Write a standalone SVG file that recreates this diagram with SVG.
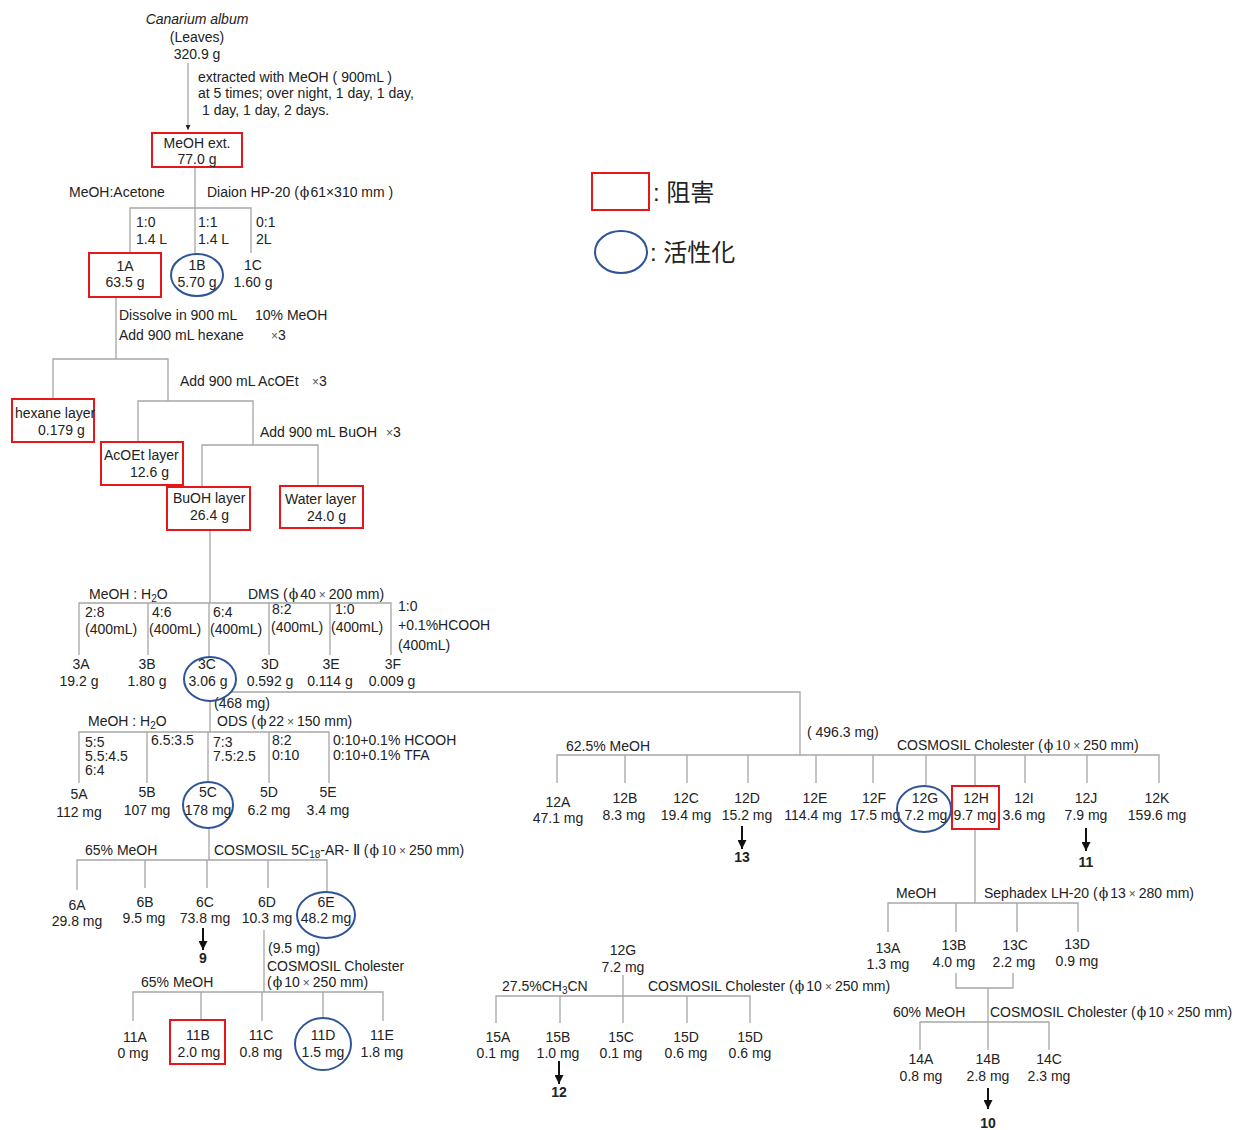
<svg xmlns="http://www.w3.org/2000/svg" width="1239" height="1130" viewBox="0 0 1239 1130">
<style>
.t{font-family:"Liberation Sans",Arial,sans-serif;font-size:14px;fill:#222}
.m{text-anchor:middle}
.i{font-style:italic}
.b{font-weight:bold}
.phi{font-family:"DejaVu Serif","Liberation Serif",serif;font-size:14px}
.ser{font-family:"Liberation Serif",serif;font-size:15px}
.x{font-size:12px;fill:#555}
.ln{stroke:#a6a6a6;stroke-width:1.3;fill:none}
.red{fill:none;stroke:#e8161b;stroke-width:2}
.blue{fill:none;stroke:#2f5597;stroke-width:2}
.arr{stroke:#111;stroke-width:2;fill:none;marker-end:url(#ah)}
.cj{font-family:"Liberation Sans","Noto Sans CJK JP",sans-serif;font-size:24px;fill:#222}
</style>
<defs>
<marker id="ah" viewBox="0 0 10 10" refX="10" refY="5" markerWidth="9" markerHeight="9" markerUnits="userSpaceOnUse" orient="auto"><path d="M0,0 L10,5 L0,10 Z" fill="#111"/></marker>
<marker id="ahs" viewBox="0 0 10 10" refX="10" refY="5" markerWidth="5" markerHeight="5" markerUnits="userSpaceOnUse" orient="auto"><path d="M0,0 L10,5 L0,10 Z" fill="#222"/></marker>
</defs>
<rect width="1239" height="1130" fill="#fff"/>

<!-- connectors -->
<g id="connectors">
<line class="ln" x1="188" y1="63" x2="188" y2="130" marker-end="url(#ahs)"/>
<path class="ln" d="M195,167V208M130,253V208H251V253M195,208V254"/>
<path class="ln" d="M116,297V359M53,399V359H168V401"/>
<path class="ln" d="M138,442V401H253V445"/>
<path class="ln" d="M202,487V445H318V486"/>
<path class="ln" d="M210,530V603M79,655V603H391V655M148,603V655M209,603V657M269,603V655M330,603V655"/>
<path class="ln" d="M231,692H800V755"/>
<path class="ln" d="M210,701V732M79,783V732H329V783M147,732V783M208,732V782M269,732V783"/>
<path class="ln" d="M209,827V860M77,890V860H327V892M145,860V888M207,860V888M268,860V888"/>
<path class="ln" d="M264,930V992M133,1021V992H383V1021M201,992V1020M262,992V1021M323,992V1018"/>
<path class="ln" d="M557,783V755H1159V783M625,755V783M687,755V783M748,755V783M816,755V783M873,755V783M926,755V785M975,755V786M1025,755V783M1087,755V783"/>
<path class="ln" d="M975,829V903M888,932V903H1078V932M956,903V932M1017,903V932"/>
<path class="ln" d="M956,973V988H1013V973M988,988V1050M920,1050V1022H1049V1050"/>
<path class="ln" d="M623,975V1023M496,1023V996H750V1023M560,996V1023M687,996V1023"/>
<line class="arr" x1="203" y1="928" x2="203" y2="950"/>
<line class="arr" x1="742" y1="826" x2="742" y2="849"/>
<line class="arr" x1="1086" y1="828" x2="1086" y2="851"/>
<line class="arr" x1="988" y1="1088" x2="988" y2="1109"/>
<line class="arr" x1="559" y1="1061" x2="559" y2="1084"/>
</g>

<!-- process labels -->
<g id="labels" class="t">
<text x="198" y="82">extracted with MeOH ( 900mL )</text>
<text x="198" y="98">at 5 times; over night, 1 day, 1 day,</text>
<text x="202" y="115">1 day, 1 day, 2 days.</text>
<text x="69" y="197">MeOH:Acetone</text>
<text x="207" y="197">Diaion HP-20 (<tspan class="phi" dx="1">ϕ</tspan><tspan dx="1">61×310 mm )</tspan></text>
<text x="136" y="227">1:0</text><text x="136" y="244">1.4 L</text>
<text x="198" y="227">1:1</text><text x="198" y="244">1.4 L</text>
<text x="256" y="227">0:1</text><text x="256" y="244">2L</text>
<text x="119" y="320">Dissolve in 900 mL</text><text x="255" y="320">10% MeOH</text>
<text x="119" y="340">Add 900 mL hexane <tspan class="x" x="271">×</tspan>3</text>
<text x="180" y="386">Add 900 mL AcOEt <tspan class="x" x="312">×</tspan>3</text>
<text x="260" y="437">Add 900 mL BuOH <tspan class="x" x="386">×</tspan>3</text>

<text x="89" y="599">MeOH : H<tspan font-size="10" dy="3">2</tspan><tspan dy="-3">O</tspan></text>
<text x="248" y="599">DMS (<tspan class="phi" dx="1">ϕ</tspan><tspan dx="2">40</tspan><tspan class="x" dx="3">×</tspan><tspan dx="3">200 mm)</tspan></text>
<text x="85" y="617">2:8</text><text x="85" y="634">(400mL)</text>
<text x="152" y="617">4:6</text><text x="149" y="634">(400mL)</text>
<text x="213" y="617">6:4</text><text x="210" y="634">(400mL)</text>
<text x="272" y="614">8:2</text><text x="271" y="632">(400mL)</text>
<text x="335" y="614">1:0</text><text x="331" y="632">(400mL)</text>
<text x="398" y="611">1:0</text><text x="398" y="630">+0.1%HCOOH</text><text x="398" y="650">(400mL)</text>

<text x="214" y="708">(468 mg)</text>
<text x="88" y="726">MeOH : H<tspan font-size="10" dy="3">2</tspan><tspan dy="-3">O</tspan></text>
<text x="217" y="726">ODS (<tspan class="phi" dx="1">ϕ</tspan><tspan dx="2">22</tspan><tspan class="x" dx="3">×</tspan><tspan dx="3">150 mm)</tspan></text>
<text x="85" y="747">5:5</text><text x="85" y="761">5.5:4.5</text><text x="85" y="775">6:4</text>
<text x="151" y="745">6.5:3.5</text>
<text x="213" y="747">7:3</text><text x="213" y="761">7.5:2.5</text>
<text x="272" y="745">8:2</text><text x="272" y="760">0:10</text>
<text x="333" y="745">0:10+0.1% HCOOH</text><text x="333" y="760">0:10+0.1% TFA</text>

<text x="85" y="855">65% MeOH</text>
<text x="214" y="855">COSMOSIL 5C<tspan font-size="10" dy="3">18</tspan><tspan dy="-3">-AR-</tspan><tspan class="ser"> Ⅱ</tspan> (<tspan class="phi" dx="1">ϕ</tspan><tspan class="ser" dx="2">10</tspan><tspan class="x" dx="3">×</tspan><tspan dx="3">250 mm)</tspan></text>

<text x="268" y="953">(9.5 mg)</text>
<text x="267" y="971">COSMOSIL Cholester</text>
<text x="267" y="987">(<tspan class="phi" dx="1">ϕ</tspan><tspan dx="2">10</tspan><tspan class="x" dx="3">×</tspan><tspan dx="3">250 mm)</tspan></text>
<text x="141" y="987">65% MeOH</text>

<text x="807" y="737">( 496.3 mg)</text>
<text x="566" y="751">62.5% MeOH</text>
<text x="897" y="750">COSMOSIL Cholester (<tspan class="phi" dx="1">ϕ</tspan><tspan class="ser" dx="2">10</tspan><tspan class="x" dx="3">×</tspan><tspan dx="3">250 mm)</tspan></text>

<text x="896" y="898">MeOH</text>
<text x="984" y="898">Sephadex LH-20 (<tspan class="phi" dx="1">ϕ</tspan><tspan dx="2">13</tspan><tspan class="x" dx="3">×</tspan><tspan dx="3">280 mm)</tspan></text>
<text x="893" y="1017">60% MeOH</text>
<text x="990" y="1017">COSMOSIL Cholester (<tspan class="phi" dx="1">ϕ</tspan><tspan dx="2">10</tspan><tspan class="x" dx="3">×</tspan><tspan dx="3">250 mm)</tspan></text>

<text x="502" y="991">27.5%CH<tspan font-size="10" dy="3">3</tspan><tspan dy="-3">CN</tspan></text>
<text x="648" y="991">COSMOSIL Cholester (<tspan class="phi" dx="1">ϕ</tspan><tspan dx="2">10</tspan><tspan class="x" dx="3">×</tspan><tspan dx="3">250 mm)</tspan></text>
</g>

<!-- fractions -->
<g id="n-leaves" class="t m"><text x="197" y="24" class="i">Canarium album</text><text x="197" y="42">(Leaves)</text><text x="197" y="59">320.9 g</text></g>
<g id="n-meoh-ext" class="t m"><rect class="red" x="152" y="133" width="90" height="34"/><text x="197" y="148">MeOH ext.</text><text x="197" y="164">77.0 g</text></g>
<g id="n-1A" class="t m"><rect class="red" x="89" y="253" width="72" height="44"/><text x="125" y="271">1A</text><text x="125" y="287">63.5 g</text></g>
<g id="n-1B" class="t m"><ellipse class="blue" cx="197" cy="275" rx="26" ry="21"/><text x="197" y="270">1B</text><text x="197" y="287">5.70 g</text></g>
<g id="n-1C" class="t m"><text x="253" y="270">1C</text><text x="253" y="287">1.60 g</text></g>
<g id="n-hexane" class="t"><rect class="red" x="12" y="399" width="82" height="43"/><text x="15" y="418">hexane layer</text><text x="38" y="435">0.179 g</text></g>
<g id="n-acoet" class="t"><rect class="red" x="101" y="442" width="82" height="43"/><text x="104" y="460">AcOEt layer</text><text x="130" y="477">12.6 g</text></g>
<g id="n-buoh" class="t"><rect class="red" x="167" y="487" width="83" height="43"/><text x="173" y="503">BuOH layer</text><text x="190" y="520">26.4 g</text></g>
<g id="n-water" class="t"><rect class="red" x="280" y="486" width="83" height="42"/><text x="285" y="504">Water layer</text><text x="307" y="521">24.0 g</text></g>

<g id="n-3A" class="t m"><text x="81" y="669">3A</text><text x="79" y="686">19.2 g</text></g>
<g id="n-3B" class="t m"><text x="147" y="669">3B</text><text x="147" y="686">1.80 g</text></g>
<g id="n-3C" class="t m"><ellipse class="blue" cx="210" cy="679" rx="26" ry="22"/><text x="207" y="669">3C</text><text x="208" y="686">3.06 g</text></g>
<g id="n-3D" class="t m"><text x="270" y="669">3D</text><text x="270" y="686">0.592 g</text></g>
<g id="n-3E" class="t m"><text x="331" y="669">3E</text><text x="330" y="686">0.114 g</text></g>
<g id="n-3F" class="t m"><text x="393" y="669">3F</text><text x="392" y="686">0.009 g</text></g>

<g id="n-5A" class="t m"><text x="79" y="799">5A</text><text x="79" y="817">112 mg</text></g>
<g id="n-5B" class="t m"><text x="147" y="797">5B</text><text x="147" y="815">107 mg</text></g>
<g id="n-5C" class="t m"><ellipse class="blue" cx="208" cy="805" rx="25" ry="23"/><text x="208" y="797">5C</text><text x="208" y="815">178 mg</text></g>
<g id="n-5D" class="t m"><text x="269" y="797">5D</text><text x="269" y="815">6.2 mg</text></g>
<g id="n-5E" class="t m"><text x="328" y="797">5E</text><text x="328" y="815">3.4 mg</text></g>

<g id="n-6A" class="t m"><text x="77" y="910">6A</text><text x="77" y="926">29.8 mg</text></g>
<g id="n-6B" class="t m"><text x="145" y="907">6B</text><text x="144" y="923">9.5 mg</text></g>
<g id="n-6C" class="t m"><text x="205" y="907">6C</text><text x="205" y="923">73.8 mg</text></g>
<g id="n-6D" class="t m"><text x="267" y="907">6D</text><text x="267" y="923">10.3 mg</text></g>
<g id="n-6E" class="t m"><ellipse class="blue" cx="326" cy="915" rx="29" ry="23"/><text x="326" y="907">6E</text><text x="326" y="923">48.2 mg</text></g>
<g id="n-9" class="t m b"><text x="203" y="963">9</text></g>

<g id="n-11A" class="t m"><text x="135" y="1042">11A</text><text x="133" y="1058">0 mg</text></g>
<g id="n-11B" class="t m"><rect class="red" x="170" y="1020" width="55" height="44"/><text x="198" y="1040">11B</text><text x="199" y="1057">2.0 mg</text></g>
<g id="n-11C" class="t m"><text x="261" y="1040">11C</text><text x="261" y="1057">0.8 mg</text></g>
<g id="n-11D" class="t m"><ellipse class="blue" cx="323" cy="1044" rx="28" ry="26"/><text x="323" y="1040">11D</text><text x="323" y="1057">1.5 mg</text></g>
<g id="n-11E" class="t m"><text x="382" y="1040">11E</text><text x="382" y="1057">1.8 mg</text></g>

<g id="n-12A" class="t m"><text x="558" y="807">12A</text><text x="558" y="823">47.1 mg</text></g>
<g id="n-12B" class="t m"><text x="625" y="803">12B</text><text x="624" y="820">8.3 mg</text></g>
<g id="n-12C" class="t m"><text x="686" y="803">12C</text><text x="686" y="820">19.4 mg</text></g>
<g id="n-12D" class="t m"><text x="747" y="803">12D</text><text x="747" y="820">15.2 mg</text></g>
<g id="n-12E" class="t m"><text x="815" y="803">12E</text><text x="813" y="820">114.4 mg</text></g>
<g id="n-12F" class="t m"><text x="874" y="803">12F</text><text x="875" y="820">17.5 mg</text></g>
<g id="n-12G" class="t m"><ellipse class="blue" cx="924" cy="809" rx="27" ry="23"/><text x="925" y="803">12G</text><text x="926" y="820">7.2 mg</text></g>
<g id="n-12H" class="t m"><rect class="red" x="952" y="786" width="47" height="43"/><text x="976" y="803">12H</text><text x="975" y="820">9.7 mg</text></g>
<g id="n-12I" class="t m"><text x="1024" y="803">12I</text><text x="1024" y="820">3.6 mg</text></g>
<g id="n-12J" class="t m"><text x="1086" y="803">12J</text><text x="1086" y="820">7.9 mg</text></g>
<g id="n-12K" class="t m"><text x="1157" y="803">12K</text><text x="1157" y="820">159.6 mg</text></g>
<g id="n-13" class="t m b"><text x="742" y="862">13</text></g>
<g id="n-11" class="t m b"><text x="1086" y="867">11</text></g>

<g id="n-13A" class="t m"><text x="888" y="953">13A</text><text x="888" y="969">1.3 mg</text></g>
<g id="n-13B" class="t m"><text x="954" y="950">13B</text><text x="954" y="967">4.0 mg</text></g>
<g id="n-13C" class="t m"><text x="1015" y="950">13C</text><text x="1014" y="967">2.2 mg</text></g>
<g id="n-13D" class="t m"><text x="1077" y="949">13D</text><text x="1077" y="966">0.9 mg</text></g>

<g id="n-14A" class="t m"><text x="921" y="1064">14A</text><text x="921" y="1081">0.8 mg</text></g>
<g id="n-14B" class="t m"><text x="988" y="1064">14B</text><text x="988" y="1081">2.8 mg</text></g>
<g id="n-14C" class="t m"><text x="1049" y="1064">14C</text><text x="1049" y="1081">2.3 mg</text></g>
<g id="n-10" class="t m b"><text x="988" y="1128">10</text></g>

<g id="n-12G-sub" class="t m"><text x="623" y="955">12G</text><text x="623" y="972">7.2 mg</text></g>
<g id="n-15A" class="t m"><text x="498" y="1042">15A</text><text x="498" y="1058">0.1 mg</text></g>
<g id="n-15B" class="t m"><text x="558" y="1042">15B</text><text x="558" y="1058">1.0 mg</text></g>
<g id="n-15C" class="t m"><text x="621" y="1042">15C</text><text x="621" y="1058">0.1 mg</text></g>
<g id="n-15D" class="t m"><text x="686" y="1042">15D</text><text x="686" y="1058">0.6 mg</text></g>
<g id="n-15D-2" class="t m"><text x="750" y="1042">15D</text><text x="750" y="1058">0.6 mg</text></g>
<g id="n-12" class="t m b"><text x="559" y="1097">12</text></g>

<!-- legend -->
<g id="legend">
<rect class="red" x="592" y="173" width="57" height="37"/>
<text class="cj" x="653" y="201">: 阻害</text>
<ellipse class="blue" cx="621" cy="252" rx="26" ry="21"/>
<text class="cj" x="650" y="261">: 活性化</text>
</g>
</svg>
